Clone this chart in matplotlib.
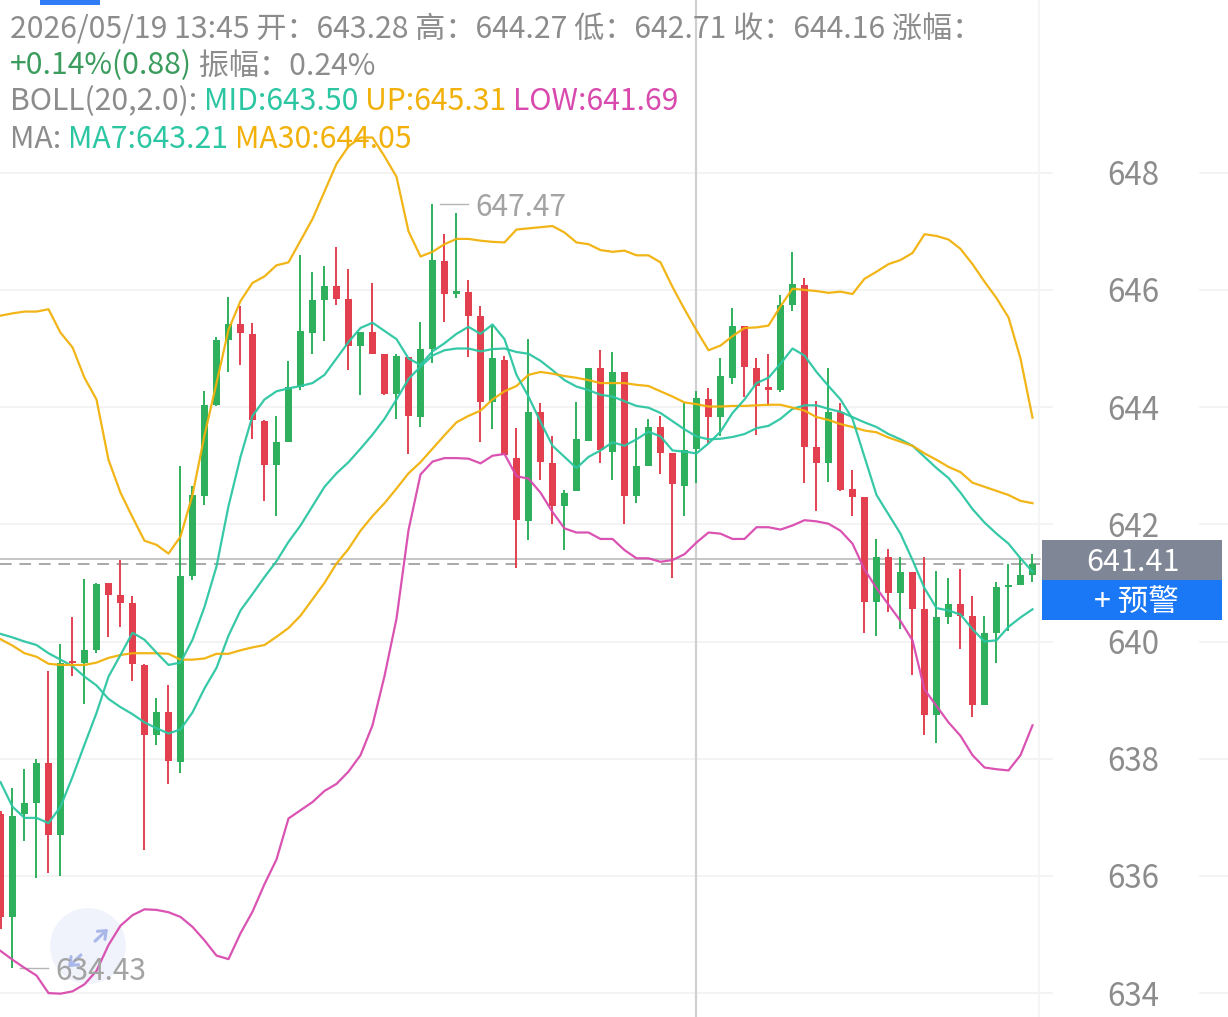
import matplotlib
matplotlib.use("Agg")
import matplotlib.pyplot as plt
from matplotlib.patches import Rectangle, Ellipse, FancyArrowPatch
import numpy as np

plt.rcParams['font.family'] = ['Noto Sans CJK SC', 'DejaVu Sans']

W, H = 1228, 1017

# 15 min bars, oldest first
opens = [637.05, 635.3, 637.05, 637.24, 637.93, 636.7, 639.67, 639.64, 639.86, 641.0,
         640.79, 640.66, 639.6, 638.4, 638.8, 637.95, 641.11, 642.48, 644.04, 645.14,
         645.41, 645.25, 643.76, 643.01, 643.41, 644.35, 645.27, 645.83, 646.07, 645.84,
         645.05, 645.28, 644.9, 644.22, 644.85, 643.83, 645.0, 646.5, 645.93, 645.97,
         645.55, 644.08, 644.81, 643.13, 642.06, 643.92, 643.04, 642.31, 642.57, 643.43,
         644.66, 643.24, 644.6, 642.48, 642.99, 643.66, 643.22, 642.66, 643.28, 644.13,
         643.83, 644.5, 645.39, 644.67, 644.35, 644.29, 645.75, 646.09, 643.32, 643.04,
         643.92, 642.6, 642.46, 640.67, 641.45, 640.83, 641.19, 640.55, 638.74, 640.41,
         640.64, 640.44, 638.92, 640.14, 640.93, 640.97, 641.14]
highs = [637.1, 637.5, 637.82, 637.99, 639.5, 639.95, 640.41, 641.07, 641.0, 641.0,
         641.39, 640.77, 639.62, 639.04, 639.25, 642.99, 642.66, 644.27, 645.2, 645.88,
         645.72, 645.44, 643.78, 643.85, 644.79, 646.6, 646.3, 646.4, 646.74, 646.35,
         645.28, 646.11, 644.9, 644.91, 644.86, 645.46, 647.47, 646.95, 647.31, 646.17,
         645.72, 645.39, 644.88, 643.64, 645.16, 644.07, 643.5, 642.59, 644.08, 644.66,
         644.97, 644.94, 644.6, 643.64, 643.79, 643.85, 643.22, 644.07, 644.27, 644.32,
         644.83, 645.69, 645.39, 644.83, 644.91, 645.91, 646.64, 646.21, 644.11, 644.67,
         644.07, 642.92, 642.46, 641.75, 641.58, 641.45, 641.19, 641.45, 641.21, 641.09,
         641.23, 640.77, 640.44, 641.02, 641.33, 641.45, 641.49]
lows = [635.1, 634.43, 636.6, 635.97, 636.05, 636.0, 639.41, 638.94, 639.8, 640.08,
        640.25, 639.32, 636.45, 638.24, 637.57, 637.75, 641.05, 642.33, 644.02, 644.6,
        644.72, 643.45, 642.4, 642.14, 643.41, 644.3, 644.9, 645.13, 645.75, 644.64,
        644.2, 644.9, 644.2, 643.8, 643.2, 643.66, 644.76, 645.46, 645.86, 644.86,
        643.41, 643.62, 643.18, 641.26, 641.73, 642.76, 642.0, 641.56, 642.57, 643.43,
        643.04, 642.76, 642.0, 642.37, 642.99, 642.85, 641.09, 642.14, 642.71, 643.38,
        643.5, 644.39, 644.18, 643.52, 644.02, 644.25, 645.64, 642.71, 642.23, 642.73,
        642.57, 642.14, 640.14, 640.09, 640.51, 640.22, 639.43, 638.4, 638.27, 640.3,
        639.88, 638.71, 638.92, 639.64, 640.18, 640.97, 641.02]
closes = [635.3, 637.03, 637.24, 637.93, 636.7, 639.64, 639.63, 639.86, 640.98, 640.79,
          640.66, 639.62, 638.4, 638.8, 637.96, 641.11, 642.5, 644.04, 645.14, 645.41,
          645.27, 643.78, 643.01, 643.41, 644.35, 645.3, 645.83, 646.07, 645.84, 645.05,
          645.28, 644.91, 644.22, 644.88, 643.85, 645.0, 646.51, 645.93, 645.98, 645.56,
          644.08, 644.83, 643.18, 642.07, 643.92, 643.06, 642.31, 642.54, 643.45, 644.66,
          643.26, 644.6, 642.48, 642.99, 643.66, 643.22, 642.68, 643.27, 644.16, 643.83,
          644.53, 645.39, 644.69, 644.36, 644.29, 645.75, 646.1, 643.32, 643.04, 643.92,
          642.59, 642.47, 640.67, 641.45, 640.83, 641.19, 640.55, 638.74, 640.41, 640.64,
          640.44, 638.92, 640.14, 640.93, 640.97, 641.14, 641.33]

ma7 = [637.6, 637.18, 636.99, 636.99, 636.9, 637.18, 637.69, 638.24, 638.78, 639.4,
       639.77, 640.15, 640.03, 639.81, 639.6, 639.64, 640.03, 640.59, 641.28, 642.31,
       643.15, 643.85, 644.13, 644.27, 644.32, 644.36, 644.41, 644.55, 644.83, 645.11,
       645.35, 645.44, 645.3, 645.16, 644.83, 644.72, 644.95, 645.09, 645.25, 645.37,
       645.25, 645.41, 645.16, 644.55, 644.18, 643.75, 643.34, 643.15, 642.96, 643.15,
       643.26, 643.4, 643.34, 643.45, 643.58, 643.5, 643.26, 643.24, 643.21, 643.38,
       643.58, 643.9, 644.13, 644.41, 644.5, 644.74, 645.0, 644.88, 644.6, 644.36,
       644.13, 643.8, 643.15, 642.5, 642.17, 641.84, 641.39, 640.91, 640.57, 640.53,
       640.46, 640.21, 640.0, 640.02, 640.25, 640.41, 640.55]
ma30 = [640.04, 639.93, 639.8, 639.74, 639.62, 639.6, 639.6, 639.6, 639.64, 639.72,
        639.77, 639.8, 639.8, 639.8, 639.79, 639.69, 639.69, 639.71, 639.79, 639.79,
        639.85, 639.9, 639.94, 640.08, 640.23, 640.44, 640.72, 641.0, 641.33, 641.58,
        641.89, 642.14, 642.36, 642.61, 642.87, 643.06, 643.29, 643.52, 643.74, 643.85,
        643.94, 644.13, 644.27, 644.36, 644.55, 644.6, 644.57, 644.53, 644.5, 644.46,
        644.41, 644.41, 644.41, 644.38, 644.36, 644.27, 644.18, 644.08, 644.05, 644.01,
        644.01, 644.02, 644.02, 644.03, 644.04, 644.04, 643.99, 643.94, 643.83, 643.78,
        643.71, 643.66, 643.6, 643.57, 643.48, 643.41, 643.34, 643.21, 643.1, 642.98,
        642.89, 642.71, 642.64, 642.57, 642.5, 642.4, 642.36]
boll_mid = [640.13, 640.07, 640.0, 639.94, 639.8, 639.69, 639.58, 639.4, 639.25, 639.02,
            638.88, 638.76, 638.62, 638.52, 638.43, 638.5, 638.79, 639.2, 639.55, 640.1,
            640.53, 640.81, 641.1, 641.37, 641.7, 641.98, 642.31, 642.64, 642.87, 643.06,
            643.29, 643.53, 643.8, 644.13, 644.48, 644.69, 644.88, 644.97, 645.0, 645.0,
            644.95, 644.99, 645.0, 644.94, 644.91, 644.79, 644.63, 644.46, 644.35, 644.29,
            644.21, 644.18, 644.1, 644.02, 643.99, 643.9, 643.76, 643.62, 643.5, 643.45,
            643.46, 643.49, 643.54, 643.64, 643.68, 643.8, 643.97, 644.03, 644.03, 643.97,
            643.92, 643.83, 643.74, 643.66, 643.54, 643.45, 643.34, 643.15, 642.96, 642.79,
            642.54, 642.26, 642.03, 641.84, 641.67, 641.42, 641.19]
boll_up = [645.56, 645.6, 645.63, 645.63, 645.67, 645.27, 645.02, 644.5, 644.13, 643.1,
           642.54, 642.12, 641.72, 641.65, 641.5, 641.79, 642.5, 643.52, 644.41, 645.32,
           645.81, 646.12, 646.23, 646.42, 646.47, 646.84, 647.21, 647.68, 648.15, 648.45,
           648.6, 648.6, 648.28, 647.93, 647.0, 646.57, 646.65, 646.78, 646.87, 646.87,
           646.84, 646.82, 646.81, 647.03, 647.05, 647.07, 647.09, 646.98, 646.81, 646.78,
           646.68, 646.65, 646.67, 646.59, 646.59, 646.47, 646.05, 645.67, 645.31, 644.97,
           645.05, 645.21, 645.35, 645.36, 645.39, 645.72, 646.02, 646.0, 645.98, 645.95,
           645.97, 645.93, 646.19, 646.31, 646.44, 646.51, 646.63, 646.95, 646.92, 646.86,
           646.7, 646.44, 646.14, 645.86, 645.53, 644.83, 643.82]
boll_low = [634.72, 634.57, 634.43, 634.3, 634.0, 633.99, 634.03, 634.15, 634.38, 634.82,
            635.15, 635.33, 635.43, 635.42, 635.38, 635.3, 635.13, 634.9, 634.64, 634.58,
            635.02, 635.39, 635.86, 636.28, 636.98, 637.12, 637.26, 637.45, 637.57, 637.78,
            638.06, 638.57, 639.41, 640.39, 641.9, 642.85, 643.07, 643.13, 643.13, 643.12,
            643.04, 643.17, 643.2, 642.82, 642.78, 642.54, 642.21, 641.93, 641.86, 641.86,
            641.75, 641.75, 641.56, 641.42, 641.42, 641.36, 641.39, 641.49, 641.69, 641.86,
            641.84, 641.75, 641.75, 641.95, 641.95, 641.91, 641.98, 642.07, 642.05, 642.01,
            641.89, 641.67, 641.23, 640.91, 640.63, 640.35, 640.02, 639.18, 638.9, 638.62,
            638.39, 638.06, 637.85, 637.82, 637.8, 638.06, 638.57]

price_ticks = [634, 636, 638, 640, 642, 644, 646, 648]
sel = 58              # bar under the crosshair
cross_price = 641.41
hi_bar, hi_val = 36, 647.47
lo_bar, lo_val = 1, 634.43

GREEN = '#2fb05c'
RED = '#e2404f'
TEAL = '#2cc6a2'
ORANGE = '#f1b10a'
PINK = '#d84aae'
GREY = '#8c8c8c'

# screen mapping: bar i at 0.5 + 12*i px, 58.6 px per point, 648 sits at y=172.7 px
STEP, PPU, Y648 = 12.0, 58.6, 172.7
TXT_DY = 3.5 / PPU    # CJK font sits a bit high when va='center'


def px_x(px):
    return (px - 0.5) / STEP


def px_y(py):
    return 648 - (py - Y648) / PPU


fig = plt.figure(figsize=(W / 100, H / 100), dpi=100)
fig.patch.set_facecolor('white')
ax = fig.add_axes([0, 0, 1, 1])
ax.set_xlim(px_x(0), px_x(W))
ax.set_ylim(px_y(H), px_y(0))
ax.axis('off')

# grid + right price scale
for p in price_ticks:
    ax.plot([px_x(0), px_x(1052)], [p, p], color='#f1f1f1', lw=1.2, zorder=0)
    ax.plot([px_x(1200), px_x(W)], [p, p], color='#f1f1f1', lw=1.2, zorder=0)
    ax.text(px_x(1133), p - TXT_DY, str(p), ha='center', va='center', fontsize=22.5, color=GREY)
ax.plot([px_x(1039), px_x(1039)], [px_y(0), px_y(H)], color='#f3f3f3', lw=1.2, zorder=0)

# crosshair
ax.plot([sel, sel], [px_y(0), px_y(H)], color='#d0d0d0', lw=1.6, zorder=1)
ax.plot([px_x(0), px_x(1040)], [cross_price, cross_price], color='#bcbcbc', lw=1.2, zorder=1)
ax.plot([px_x(0), px_x(1040)], [closes[-1], closes[-1]], color='#a8a8a8', lw=1.4,
        dashes=(6, 4), zorder=1)

# little zoom button bottom left (drawn in pixel units so it stays round)
ax.add_patch(Ellipse((px_x(88), px_y(946)), 76 / STEP, 76 / PPU, color='#eef2fb', alpha=0.85,
                     lw=0, zorder=2))
for (x0, y0), (x1, y1) in [((93, 943), (110, 927)), ((83, 953), (66, 969))]:
    ax.add_patch(FancyArrowPatch((px_x(x0), px_y(y0)), (px_x(x1), px_y(y1)),
                                 arrowstyle='->,head_length=5,head_width=4', color='#a9b8e8',
                                 lw=2.2, zorder=2))

# candles
o = np.array(opens)
c = np.array(closes)
idx = np.arange(len(o))
cols = np.where(c >= o, GREEN, RED)
ax.vlines(idx, lows, highs, colors=cols, lw=1.4, zorder=3)
ax.bar(idx, np.maximum(np.abs(c - o), 0.035), bottom=np.minimum(o, c), width=0.66,
       color=cols, lw=0, zorder=4)

# indicator lines
for vals, col in [(boll_up, ORANGE), (boll_low, PINK), (boll_mid, TEAL),
                  (ma30, ORANGE), (ma7, TEAL)]:
    ax.plot(idx, vals, color=col, lw=1.6, zorder=5, alpha=0.95)

# high / low markers
ax.plot([hi_bar + 0.6, hi_bar + 3.0], [hi_val, hi_val], color='#b5b5b5', lw=1.0)
ax.text(hi_bar + 3.6, hi_val - TXT_DY, f'{hi_val:.2f}', ha='left', va='center', fontsize=21.5,
        color='#a3a3a3')
ax.plot([lo_bar + 0.6, lo_bar + 3.0], [lo_val, lo_val], color='#b5b5b5', lw=1.0)
ax.text(lo_bar + 3.6, lo_val - TXT_DY, f'{lo_val:.2f}', ha='left', va='center', fontsize=21.5,
        color='#a3a3a3', zorder=6)

# crosshair price tag + alert button
ax.add_patch(Rectangle((px_x(1042), px_y(580)), px_x(1222) - px_x(1042), px_y(540) - px_y(580),
                       color='#7f8695', lw=0, zorder=6))
ax.add_patch(Rectangle((px_x(1042), px_y(620)), px_x(1222) - px_x(1042), px_y(580) - px_y(620),
                       color='#1a78f6', lw=0, zorder=6))
ax.text(px_x(1133), cross_price - TXT_DY, f'{cross_price:.2f}', ha='center', va='center',
        fontsize=22, color='white', zorder=7)
ax.text(px_x(1136), px_y(602), '+ 预警', ha='center', va='center', fontsize=22,
        color='white', zorder=7)

# header (multi-colour lines)
fig.add_artist(Rectangle((40 / W, 1 - 5 / H), 60 / W, 5 / H, transform=fig.transFigure,
                         color='#2f7cf6', lw=0))
renderer = fig.canvas.get_renderer()
header = [
    (30, [('2026/05/19 13:45 开：643.28 高：644.27 低：642.71 收：644.16 涨幅：', GREY)]),
    (66, [('+0.14%(0.88)', '#3b9c5e'), (' 振幅：0.24%', GREY)]),
    (102, [('BOLL(20,2.0): ', GREY), ('MID:643.50 ', TEAL), ('UP:645.31 ', ORANGE),
           ('LOW:641.69', PINK)]),
    (139, [('MA: ', GREY), ('MA7:643.21 ', TEAL), ('MA30:644.05', ORANGE)]),
]
for ypix, parts in header:
    x = 10 / W
    for s, col in parts:
        t = fig.text(x, 1 - ypix / H, s, color=col, fontsize=21.7, ha='left', va='center',
                     zorder=8)
        x += t.get_window_extent(renderer).width / W

fig.savefig('out.png', dpi=100, facecolor='white')
